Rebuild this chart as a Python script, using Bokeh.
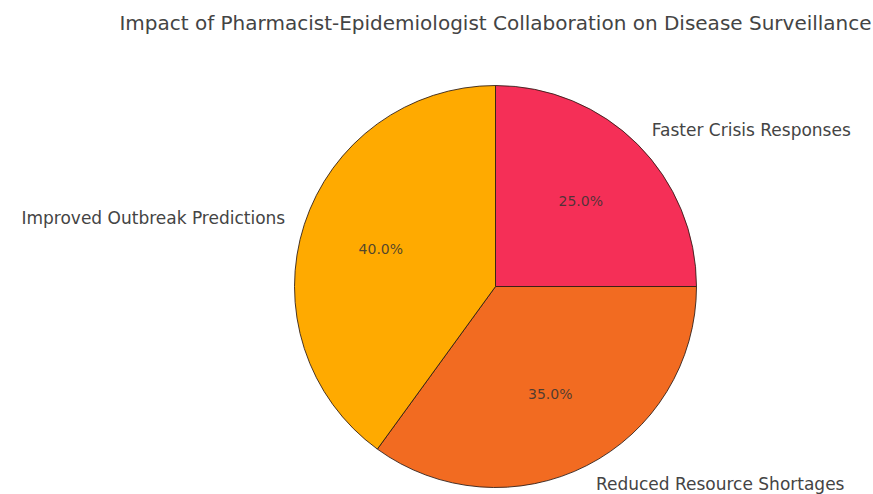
import numpy as np
from bokeh.plotting import figure
from bokeh.models import Range1d
from bokeh.core.properties import value
from bokeh.embed import file_html
from bokeh.resources import INLINE

labels = ["Faster Crisis Responses", "Reduced Resource Shortages", "Improved Outbreak Predictions"]
values = [25, 35, 40]
colors = ["#F52F57", "#F26B21", "#FFAA00"]
title = "Impact of Pharmacist-Epidemiologist Collaboration on Disease Surveillance"

W, H = 873, 494
cx, cy = 495, 286   # pie centre in window pixels
R = 201

p = figure(width=W, height=H, output_backend="svg", toolbar_location=None,
           x_range=Range1d(-cx, W - cx), y_range=Range1d(cy - H, cy),
           min_border=0, outline_line_color=None)
p.axis.visible = False
p.grid.visible = False
p.background_fill_color = "white"
p.border_fill_color = "white"

vals = np.array(values, dtype=float)
frac = vals / vals.sum()
cum = np.concatenate([[0], np.cumsum(frac)])
start_deg = 90 - cum[1:] * 360
end_deg = 90 - cum[:-1] * 360
mid = np.radians((start_deg + end_deg) / 2)

p.wedge(x=0, y=0, radius=R, start_angle=np.radians(start_deg), end_angle=np.radians(end_deg),
        fill_color=colors, line_color="#2a1a14", line_width=1, line_alpha=0.85)

# category labels
lx = 1.1 * R * np.cos(mid)
ly = 1.1 * R * np.sin(mid)
aligns = ["left" if x >= 0 else "right" for x in lx]
p.text(x=lx, y=ly, text=labels, text_align=aligns, text_baseline="middle",
       text_font=value("DejaVu Sans"), text_font_size="17px", text_color="#444444")

# percentage labels
pct = ["%.1f%%" % (f * 100) for f in frac]
p.text(x=0.6 * R * np.cos(mid), y=0.6 * R * np.sin(mid), text=pct, text_align="center",
       text_baseline="middle", text_font=value("DejaVu Sans"), text_font_size="14px",
       text_color="#333333", text_alpha=0.85)

# title
p.text(x=[0], y=[cy - 22], text=[title], text_align="center", text_baseline="middle",
       text_font=value("DejaVu Sans"), text_font_size="20px", text_color="#444444")

open("out.html", "w").write(file_html(p, INLINE))
